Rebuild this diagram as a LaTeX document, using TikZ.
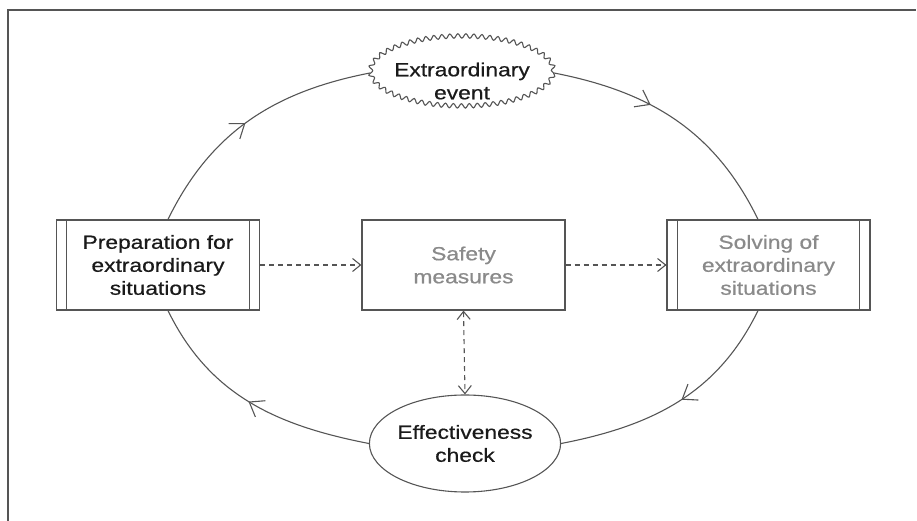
\documentclass[tikz,border=0pt]{standalone}
\usepackage{fontspec}
\setmainfont{Liberation Sans}[FakeStretch=1.2, FakeBold=0.6]
\usetikzlibrary{shapes.geometric,decorations.pathmorphing,decorations.markings,arrows.meta}
\definecolor{linegray}{HTML}{555555}
\definecolor{textgray}{HTML}{8A8A8A}
\definecolor{textdark}{HTML}{1A1A1A}
\tikzset{barb/.tip={Straight Barb[length=8pt, width=13pt]},
         bigbarb/.tip={Straight Barb[length=13pt, width=19pt]}}
\begin{document}
\begin{tikzpicture}[x=1pt,y=1pt,
  txt/.style={font=\fontsize{19}{23}\selectfont, align=center},
  stepbox/.style={txt, draw=linegray, line width=1.2pt, minimum width=203pt, minimum height=90pt, inner sep=0pt, fill=white},
  cyc/.style={draw=linegray, line width=1.1pt, postaction={decorate},
    decoration={markings, mark=at position #1 with {\arrow[linegray, line width=1.1pt]{bigbarb}}}},
  dashline/.style={draw=linegray, line width=1.1pt, dash pattern=on 5pt off 4pt},
  inner/.style={draw=linegray, line width=1.1pt}
]
\useasboundingbox (0,0) rectangle (917,521);
% frame
\draw[linegray, line width=2pt] (8,0) -- (8,511) -- (916,511);

% nodes
\node[stepbox, text=textdark] (prep) at (158,256) {Preparation for\\extraordinary\\situations};
\node[stepbox, text=textgray] (safe) at (463.5,256) {Safety\\measures};
\node[stepbox, text=textgray] (solv) at (768.5,256) {Solving of\\extraordinary\\situations};
\node[ellipse, draw=linegray, line width=1.1pt, minimum width=183pt, minimum height=70pt, inner sep=0pt,
      decorate, decoration={snake, segment length=8pt, amplitude=2.2pt}] (event) at (462,448) {};
\node[txt, text=textdark] (eventtext) at ([yshift=-8pt]event.center) {Extraordinary\\event};
\node[txt, text=textdark, ellipse, draw=linegray, line width=1.1pt, minimum width=190pt, minimum height=97pt, inner sep=0pt] (eff) at (465,77.5) {Effectiveness\\check};

% inner vertical lines of the double boxes
\foreach \n in {prep,solv}{
  \draw[inner] ([xshift=11pt]\n.north west) -- ([xshift=11pt]\n.south west);
  \draw[inner] ([xshift=-11pt]\n.north east) -- ([xshift=-11pt]\n.south east);
}

% cycle
\coordinate (p1) at (prep.north -| 168,0);
\coordinate (p2) at (prep.south -| 168,0);
\coordinate (s1) at (solv.north -| 758,0);
\coordinate (s2) at (solv.south -| 758,0);
\draw[cyc=0.48] (p1) to[out=64, in=191] (event.west);
\draw[cyc=0.39] (event.east) to[out=-11, in=116] (s1);
\draw[cyc=0.48] (s2) to[out=244, in=11] (eff.east);
\draw[cyc=0.51] (eff.west) to[out=169, in=-64] (p2);

% dashed arrows
\draw[dashline, -{barb}] (prep.east) -- (safe.west);
\draw[dashline, -{barb}] (safe.east) -- (solv.west);
\draw[dashline, {barb}-{barb}] (safe.south) -- (eff.north);
\end{tikzpicture}
\end{document}
